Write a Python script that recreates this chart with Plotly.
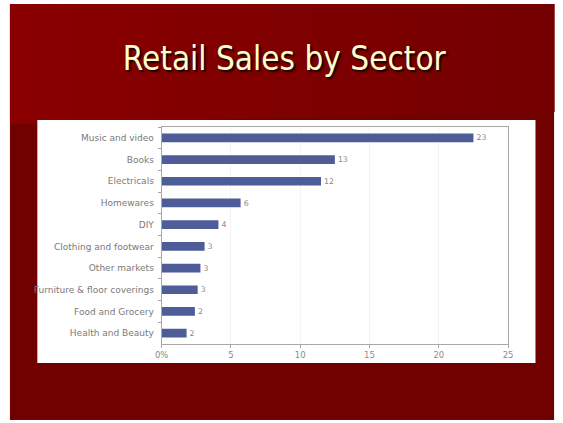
import plotly.graph_objects as go

# Retail sales share by sector (%)
sectors = [
    "Music and video", "Books", "Electricals", "Homewares", "DIY",
    "Clothing and footwear", "Other markets", "Furniture & floor coverings",
    "Food and Grocery", "Health and Beauty",
]
shares = [22.5, 12.5, 11.5, 5.7, 4.1, 3.1, 2.8, 2.6, 2.4, 1.8]
tick_values = [0, 5, 10, 15, 20, 25]
tick_labels = ["0%", "5", "10", "15", "20", "25"]

W, H = 563, 423


def px(x):
    return x / W


def py(y):
    return 1 - y / H


def lerp_color(c1, c2, t):
    r = round(c1[0] + (c2[0] - c1[0]) * t)
    g = round(c1[1] + (c2[1] - c1[1]) * t)
    b = round(c1[2] + (c2[2] - c1[2]) * t)
    return f"rgb({r},{g},{b})"


shapes = []
# slide background
shapes.append(dict(type="rect", xref="paper", yref="paper", layer="below",
                   x0=px(3), x1=px(559), y0=py(420), y1=py(4),
                   fillcolor="#710000", line=dict(width=0)))

# header band with a left-to-right gradient and a slanted lower edge
n = 60
x_left, x_right = 3, 559
y_top, y_bot_left, y_bot_right = 4, 124, 112
left_col, right_col = (138, 0, 0), (116, 0, 0)
for i in range(n):
    xa = x_left + (x_right - x_left) * i / n
    xb = x_left + (x_right - x_left) * (i + 1) / n + 0.6
    ya = y_bot_left + (y_bot_right - y_bot_left) * (xa - x_left) / (x_right - x_left)
    yb = y_bot_left + (y_bot_right - y_bot_left) * (xb - x_left) / (x_right - x_left)
    col = lerp_color(left_col, right_col, i / (n - 1))
    path = (f"M {px(xa)},{py(y_top)} L {px(xb)},{py(y_top)} "
            f"L {px(xb)},{py(yb)} L {px(xa)},{py(ya)} Z")
    shapes.append(dict(type="path", xref="paper", yref="paper", layer="below",
                       path=path, fillcolor=col, line=dict(width=0)))

# white chart panel
shapes.append(dict(type="rect", xref="paper", yref="paper", layer="below",
                   x0=px(31), x1=px(540), y0=py(363), y1=py(120),
                   fillcolor="white", line=dict(width=0)))

label_font = "DejaVu Sans, sans-serif"

fig = go.Figure(go.Bar(
    x=shares,
    y=sectors,
    orientation="h",
    marker=dict(color="#4e5c98", line=dict(width=0)),
    width=0.4,
    text=shares,
    texttemplate="%{x:.0f}",
    textposition="outside",
    cliponaxis=False,
    textfont=dict(family=label_font, size=9, color="#8a8a8a"),
))

fig.update_layout(
    width=W,
    height=H,
    margin=dict(l=0, r=0, t=0, b=0),
    paper_bgcolor="white",
    plot_bgcolor="white",
    shapes=shapes,
    showlegend=False,
    title=dict(
        text="Retail Sales by Sector",
        x=0.505, xanchor="center",
        y=py(58), yanchor="middle",
        font=dict(family="DejaVu Sans Condensed, DejaVu Sans, sans-serif",
                  size=33, color="#ffffcc", shadow="2px 2px 2px #180000"),
    ),
    xaxis=dict(
        domain=[px(158), px(512)],
        range=[0, 25],
        tickvals=tick_values,
        ticktext=tick_labels,
        showgrid=True,
        gridcolor="#f4f4f4",
        gridwidth=1,
        zeroline=False,
        showline=True,
        linecolor="#a8a8a8",
        linewidth=1,
        mirror=True,
        ticks="outside",
        ticklen=3,
        tickcolor="#a8a8a8",
        tickfont=dict(family=label_font, size=8.5, color="#8a8a8a"),
    ),
    yaxis=dict(
        domain=[py(344), py(127)],
        autorange="reversed",
        showgrid=False,
        showline=True,
        linecolor="#a8a8a8",
        linewidth=1,
        mirror=True,
        ticks="outside",
        ticklen=3,
        tickcolor="#a8a8a8",
        tickson="boundaries",
        ticklabelstandoff=5,
        tickfont=dict(family=label_font, size=9, color="#7a7a7a"),
    ),
)

fig.write_html("out.html")
